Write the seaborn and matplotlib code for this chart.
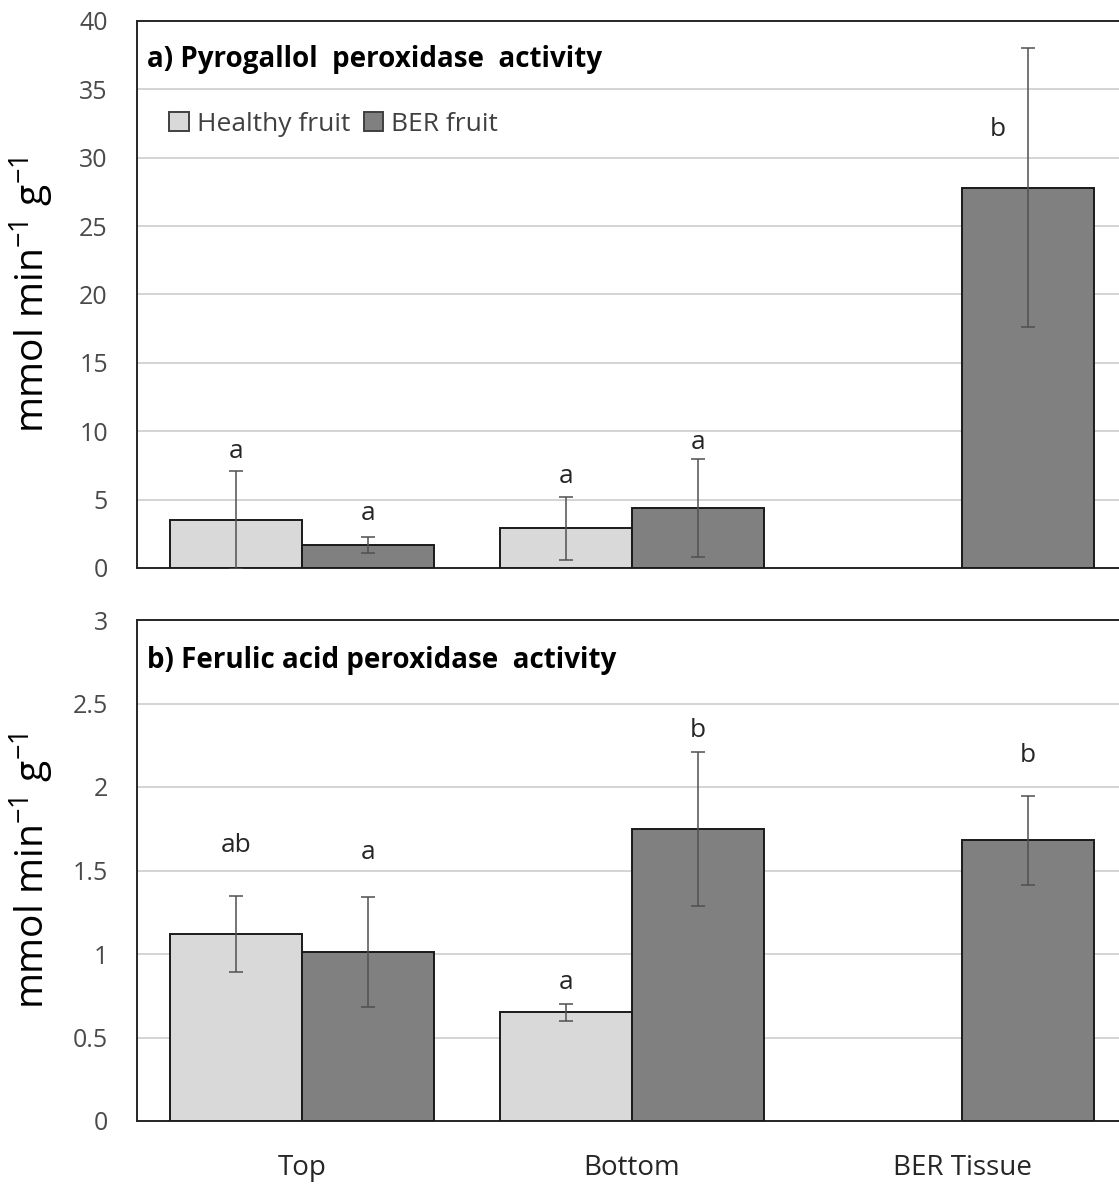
import numpy as np
import pandas as pd
import matplotlib
matplotlib.use("Agg")
import matplotlib.pyplot as plt
from matplotlib.ticker import FuncFormatter
import seaborn as sns

# ---- data ----
categories = ["Top", "Bottom", "BER Tissue"]
groups = ["Healthy fruit", "BER fruit"]

pyro_healthy = [3.5, 2.9, np.nan]
pyro_ber = [1.7, 4.4, 27.8]
pyro_healthy_err = [3.6, 2.3, np.nan]
pyro_ber_err = [0.6, 3.6, 10.2]
pyro_healthy_letters = ["a", "a", ""]
pyro_ber_letters = ["a", "a", "b"]
pyro_healthy_letter_y = [8.5, 6.7, np.nan]
pyro_ber_letter_y = [4.0, 9.2, 32.1]

ferul_healthy = [1.12, 0.65, np.nan]
ferul_ber = [1.01, 1.75, 1.68]
ferul_healthy_err = [0.23, 0.05, np.nan]
ferul_ber_err = [0.33, 0.46, 0.265]
ferul_healthy_letters = ["ab", "a", ""]
ferul_ber_letters = ["a", "b", "b"]
ferul_healthy_letter_y = [1.65, 0.83, np.nan]
ferul_ber_letter_y = [1.61, 2.34, 2.19]


def make_df(h, b, he, be, hl, bl, hy, by):
    rows = []
    for i, c in enumerate(categories):
        rows.append(dict(cat=c, grp=groups[0], val=h[i], err=he[i], let=hl[i], ly=hy[i]))
        rows.append(dict(cat=c, grp=groups[1], val=b[i], err=be[i], let=bl[i], ly=by[i]))
    return pd.DataFrame(rows)


df_a = make_df(pyro_healthy, pyro_ber, pyro_healthy_err, pyro_ber_err,
               pyro_healthy_letters, pyro_ber_letters,
               pyro_healthy_letter_y, pyro_ber_letter_y)
df_b = make_df(ferul_healthy, ferul_ber, ferul_healthy_err, ferul_ber_err,
               ferul_healthy_letters, ferul_ber_letters,
               ferul_healthy_letter_y, ferul_ber_letter_y)

sns.set_theme(style="white")
plt.rcParams['font.family'] = ['Open Sans', 'DejaVu Sans']

W, H = 1119, 1187
fig = plt.figure(figsize=(W / 100, H / 100), dpi=100)

axw = 990 / W
ax_a = fig.add_axes([137 / W, 1 - 568 / H, axw, (568 - 21) / H])
ax_b = fig.add_axes([137 / W, 1 - 1121 / H, axw, (1121 - 620) / H])

palette = {"Healthy fruit": "#d9d9d9", "BER fruit": "#808080"}
txt_col = "#4a4a4a"


def draw(ax, df, ymax, ystep, title, title_y):
    sns.barplot(data=df.dropna(subset=["val"]), x="cat", y="val", hue="grp",
                order=categories, hue_order=groups, palette=palette,
                errorbar=None, width=0.8, edgecolor="#1a1a1a", linewidth=1.4,
                ax=ax, zorder=3)
    for cont, g in zip(ax.containers, groups):
        sub = df[df.grp == g].reset_index(drop=True)
        for p in cont.patches:
            xc = p.get_x() + p.get_width() / 2
            idx = int(round(xc))
            row = sub.iloc[idx]
            if np.isnan(row.val):
                continue
            ax.errorbar(xc, row.val, yerr=row.err, fmt="none", ecolor="#505050",
                        elinewidth=1.1, capsize=5, capthick=1.1, zorder=4)
            # letter placed beside the bar's error line when it would hit the top
            lx = xc - 0.09 if row.val + row.err > 0.9 * ymax else xc
            ax.text(lx, row.ly, row.let, ha="center", va="center",
                    fontsize=19, color="#262626", zorder=5)
    ax.set_xlim(-0.5, 2.5)
    ax.set_ylim(0, ymax)
    ax.set_yticks(np.arange(0, ymax + ystep / 2, ystep))
    ax.yaxis.set_major_formatter(FuncFormatter(lambda v, p: f"{v:g}"))
    ax.yaxis.grid(True, color="#d4d4d4", linewidth=1.4, zorder=0)
    ax.set_axisbelow(True)
    for s in ["left", "bottom", "top"]:
        ax.spines[s].set_color("#262626")
        ax.spines[s].set_linewidth(1.4)
    ax.spines["right"].set_visible(False)
    ax.tick_params(axis="y", length=0, labelsize=18, labelcolor=txt_col, pad=21)
    ax.tick_params(axis="x", length=0)
    ax.set_xlabel("")
    ax.set_ylabel(r"mmol min$^{\mathregular{-1}}$ g$^{\mathregular{-1}}$",
                  fontsize=28, color="black")
    ax.yaxis.set_label_coords(-0.082, 0.5)
    ax.text(0.01, title_y, title, transform=ax.transAxes,
            fontsize=20, fontweight="bold", color="black", ha="left", va="center")


draw(ax_a, df_a, 40, 5, "a) Pyrogallol  peroxidase  activity", 0.93)
draw(ax_b, df_b, 3, 0.5, "b) Ferulic acid peroxidase  activity", 0.92)

ax_a.set_xticklabels([])
ax_b.tick_params(axis="x", labelsize=20, labelcolor="#262626", pad=24)

# legends
ax_b.get_legend().remove()
leg = ax_a.legend(loc="center left", bbox_to_anchor=(0.022, 0.811), ncol=2,
                  frameon=False, fontsize=19, handlelength=0.75, handleheight=0.75,
                  handletextpad=0.3, columnspacing=0.5, borderaxespad=0)
for t in leg.get_texts():
    t.set_color("#404040")
for hnd in leg.legend_handles:
    hnd.set_edgecolor("#404040")

fig.savefig("out.png", dpi=100)
